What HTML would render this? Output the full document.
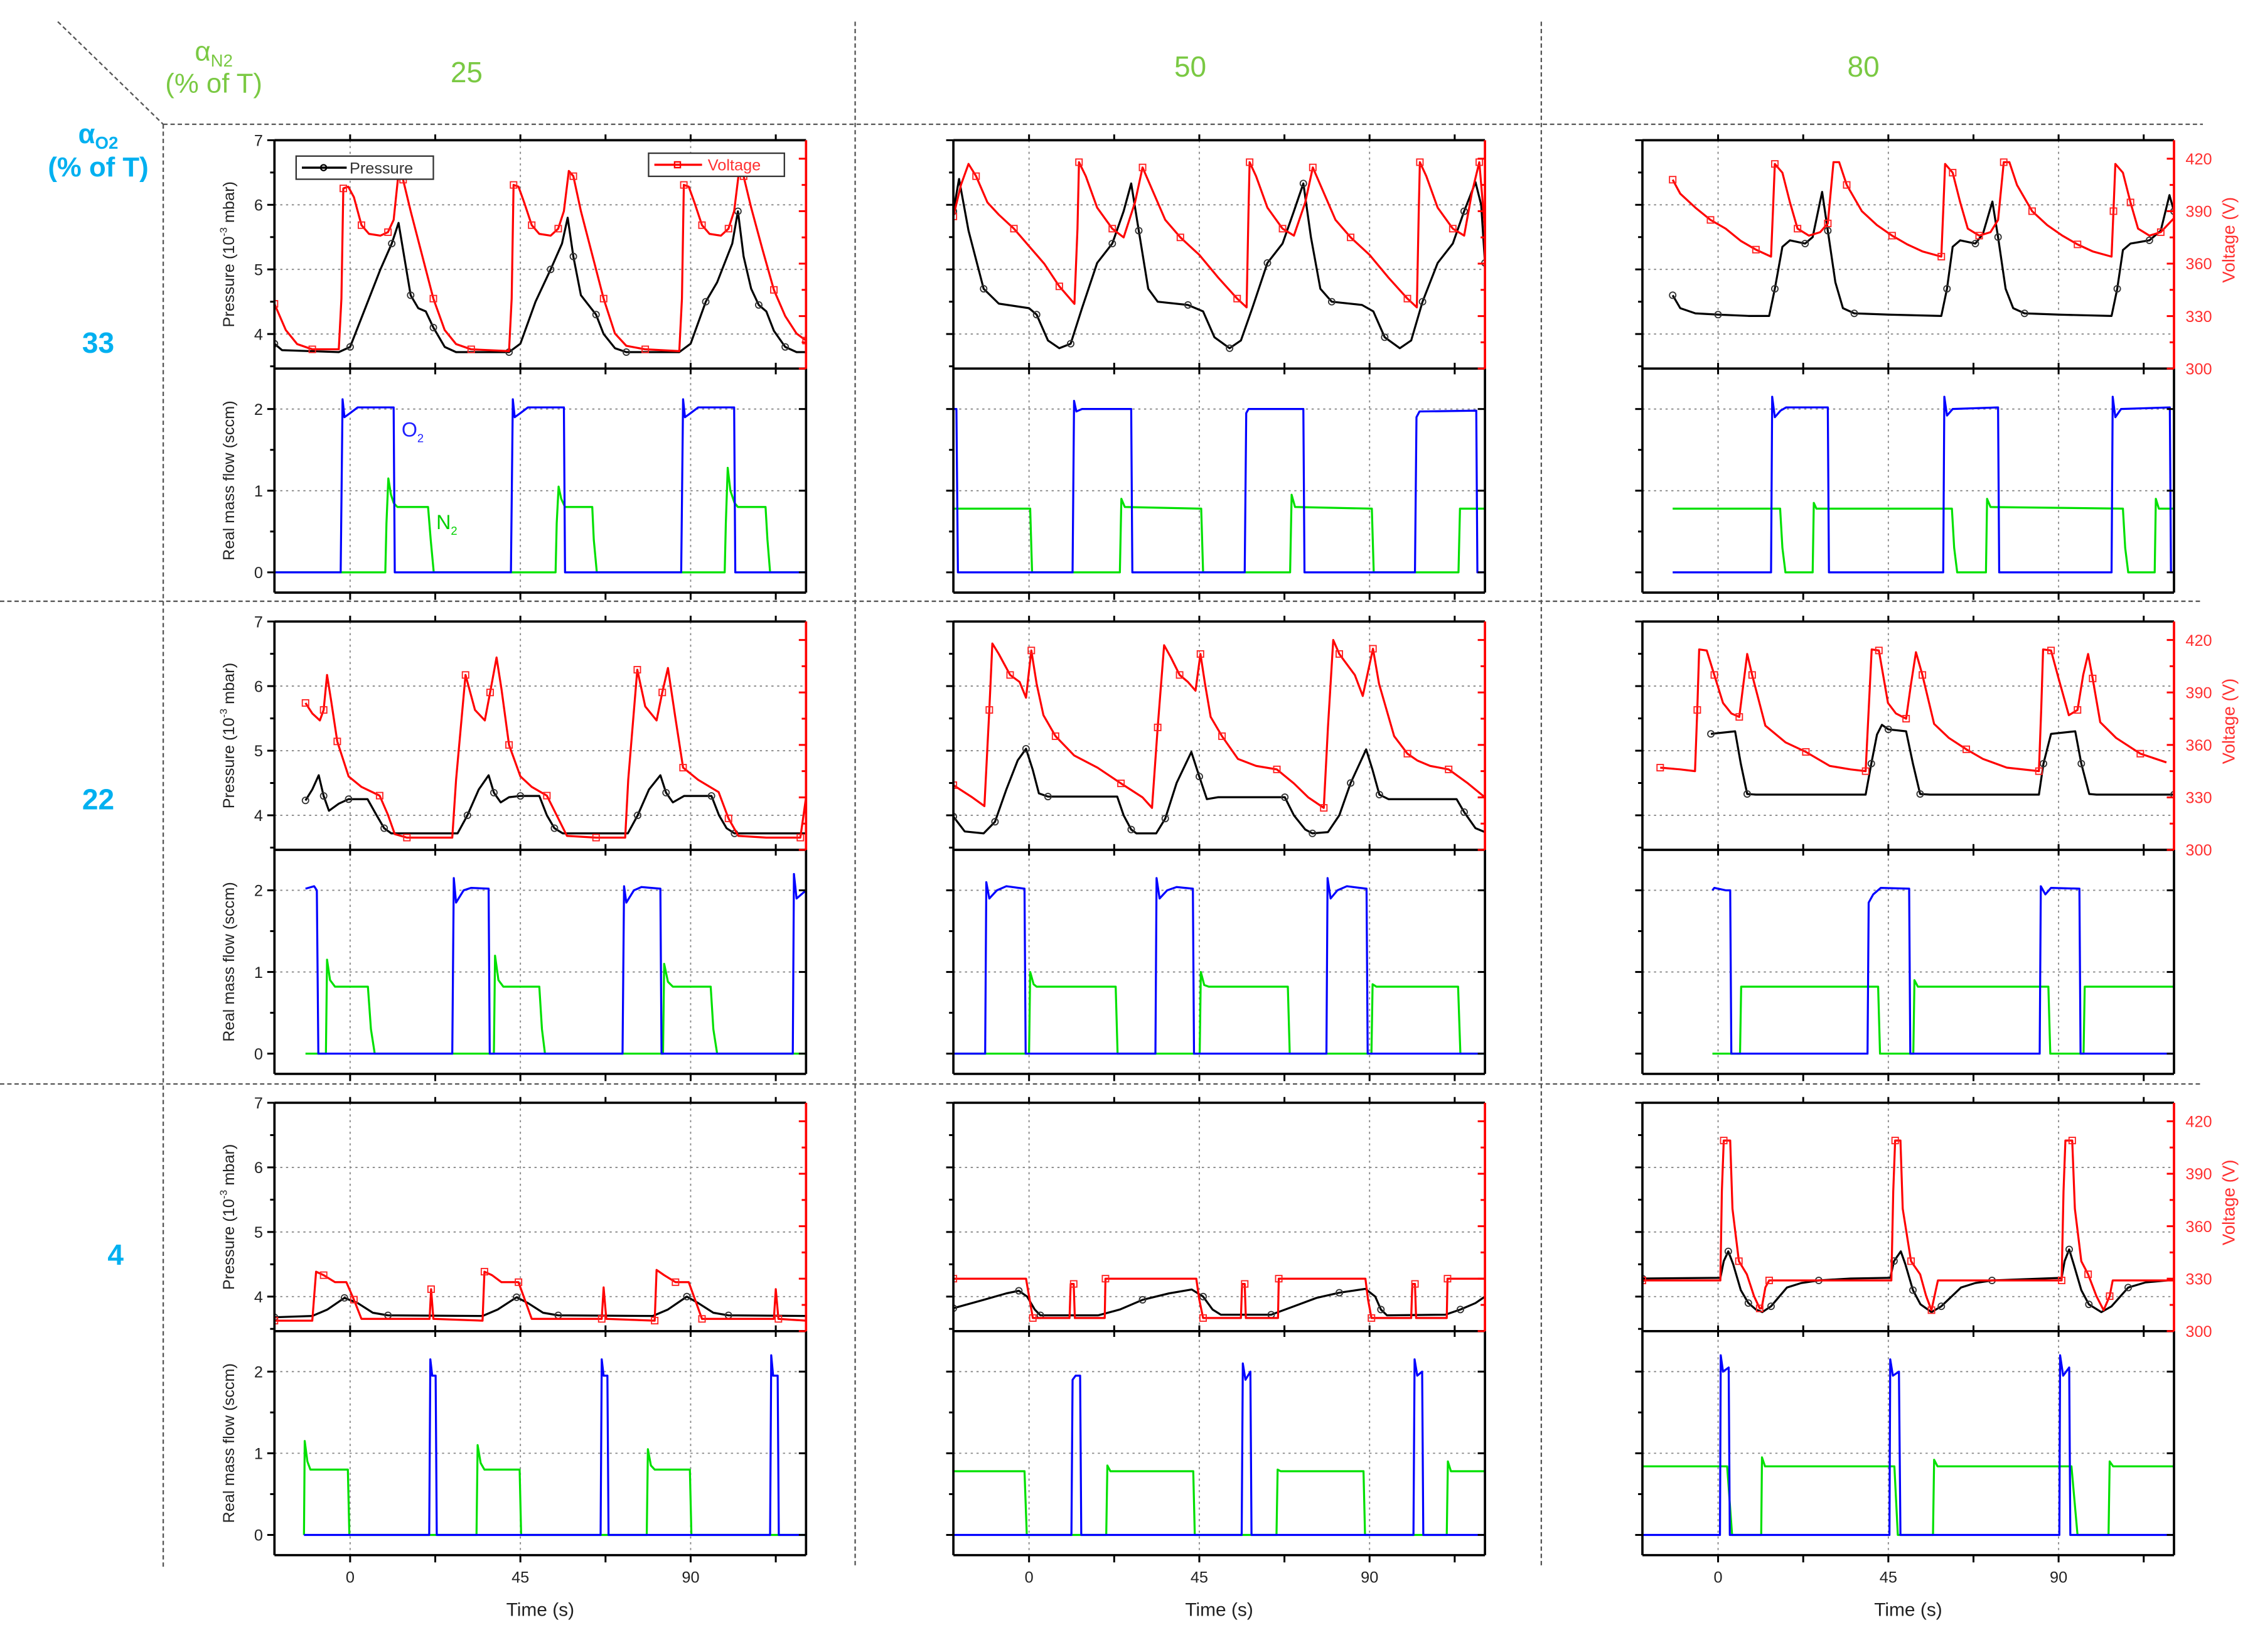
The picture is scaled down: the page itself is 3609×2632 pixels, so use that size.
<!DOCTYPE html>
<html><head><meta charset="utf-8"><style>
html,body{margin:0;padding:0;background:#fff}
svg{display:block}
text{font-family:"Liberation Sans",Arial,sans-serif}
</style></head><body>
<svg id="fig" xmlns="http://www.w3.org/2000/svg" width="3609" height="2632" viewBox="0 0 1568 1143" preserveAspectRatio="none">
<g stroke="#555" stroke-width="1" stroke-dasharray="3,2" fill="none">
<line x1="40" y1="15" x2="113" y2="86"/>
<line x1="113" y1="86" x2="1525" y2="86"/>
<line x1="113" y1="86" x2="113" y2="1085"/>
<line x1="592" y1="15" x2="592" y2="1085"/>
<line x1="1067" y1="15" x2="1067" y2="1085"/>
<line x1="0" y1="416" x2="1525" y2="416"/>
<line x1="0" y1="750" x2="1525" y2="750"/>
</g>
<g fill="#7ac943" font-size="19" text-anchor="middle">
<text x="148" y="42">α<tspan font-size="12" dy="4">N2</tspan></text>
<text x="148" y="64">(% of T)</text>
<text x="323" y="57" font-size="20">25</text>
<text x="824" y="53" font-size="20">50</text>
<text x="1290" y="53" font-size="20">80</text>
</g>
<g fill="#00b0f0" font-size="19" text-anchor="middle" font-weight="bold">
<text x="68" y="99">α<tspan font-size="12" dy="4">O2</tspan></text>
<text x="68" y="122">(% of T)</text>
<text x="68" y="244" font-size="20">33</text>
<text x="68" y="560" font-size="20">22</text>
<text x="80" y="875" font-size="20">4</text>
</g>
<g id="plots"></g>
</svg>
<script>
// ---- data: flat [time(s), value] pairs ----
const pres_33_25=[-20,3.85,-18,3.75,-3,3.72,0,3.8,4,4.4,8,5.0,11,5.4,12.8,5.72,14,5.3,16,4.6,18,4.4,20,4.35,22,4.1,25,3.8,28,3.72,42,3.72,45,3.85,49,4.5,53,5.0,56,5.4,57.5,5.8,59,5.2,61,4.6,63,4.45,65,4.3,67,4.0,70,3.78,73,3.72,87,3.72,90,3.85,94,4.5,97,4.8,101,5.4,102.5,5.9,104,5.2,106,4.7,108,4.45,110,4.35,112,4.05,115,3.8,118,3.72,120.5,3.72];
const volt_33_25=[-20,337,-17,322,-14,314,-10,311,-3,311,-2.3,340,-1.8,403,-0.5,404,1,398,3,382,5,377,8,376,10,378,11.5,385,12.8,412,14,408,16,390,19,365,22,340,25,322,28,314,32,311,42,310,42.7,340,43.2,405,44.5,404,46,395,48,382,50,377,53,376,55,380,56.5,390,57.8,413,59,410,61,390,64,365,67,340,70,320,73,313,78,311,87,310,87.7,340,88.2,405,89.5,404,91,395,93,382,95,377,98,376,100,380,101.5,390,102.8,413,104,410,106,392,109,368,112,345,115,330,118,320,120.5,316];
const o2_33_25=[-20,0,-2.5,0,-2,2.12,-1.5,1.9,0,1.95,2,2.02,11.5,2.02,11.8,0,42.5,0,43,2.12,43.5,1.9,45,1.95,47,2.02,56.5,2.02,56.8,0,87.5,0,88,2.12,88.5,1.9,90,1.95,92,2.02,101.5,2.02,101.8,0,120.5,0];
const n2_33_25=[-20,0,9.3,0,9.6,0.6,10.1,1.15,10.8,0.95,11.5,0.85,12.5,0.8,20.6,0.8,21.3,0.4,22.1,0,54.3,0,54.6,0.6,55.1,1.05,55.8,0.9,56.8,0.8,64,0.8,64.4,0.4,65.2,0,99,0,99.3,0.6,99.8,1.28,100.5,1.0,101.6,0.85,102.5,0.8,109.8,0.8,110.3,0.4,111,0,120.5,0];

const pres_33_50=[-20,5.9,-18.5,6.4,-16,5.6,-12,4.7,-8,4.47,0,4.4,2,4.3,5,3.9,8,3.78,11,3.85,14,4.4,18,5.1,22,5.4,25,5.9,27,6.33,29,5.6,31.5,4.7,34,4.5,42,4.45,46,4.35,49,3.95,53,3.78,56,3.9,59,4.4,63,5.1,67,5.4,70,5.9,72.5,6.33,74.5,5.5,77,4.7,80,4.5,88,4.45,91,4.35,94,3.95,98,3.78,101,3.9,104,4.5,108,5.1,112,5.4,115,5.9,118,6.35,119.5,6,120.5,5.1];
const volt_33_50=[-20,387,-18,405,-16,417,-14,410,-11,395,-8,388,-4,380,0,370,4,360,8,347,12,337,12.8,380,13.2,418,15,410,18,392,22,380,25,375,28,395,30,415,32,405,36,385,40,375,45,365,50,352,55,340,57.5,335,58,390,58.3,418,60,410,63,392,67,380,70,376,73,395,75,415,77,405,81,385,85,375,90,365,95,352,100,340,102.5,335,103,390,103.3,418,105,410,108,392,112,380,115,376,117,400,119,418,120.5,380];
const o2_33_50=[-20,2.0,-19.2,2.0,-18.8,0,11.5,0,11.9,2.1,12.5,1.97,14,2.0,27,2.0,27.3,0,57,0,57.4,1.95,58,2.0,72.5,2.0,72.8,0,102,0,102.4,1.9,103.2,1.97,118.2,1.98,118.5,0,120.5,0];
const n2_33_50=[-20,0.78,0.3,0.78,0.8,0,24,0,24.4,0.9,25.3,0.8,45.5,0.78,46,0,69,0,69.4,0.95,70.3,0.8,90.6,0.78,91.1,0,113.5,0,113.9,0.78,120.5,0.78];

const pres_33_80=[-12,4.6,-10,4.4,-6,4.32,0,4.3,8,4.28,13.5,4.28,15,4.7,17,5.35,19,5.45,23,5.4,25,5.5,27.5,6.2,29,5.6,31,4.8,33,4.4,36,4.32,45,4.3,59,4.28,60.5,4.7,62,5.35,64,5.45,68,5.4,70,5.55,72.5,6.05,74,5.5,76,4.7,78,4.4,81,4.32,90,4.3,104,4.28,105.5,4.7,107,5.3,109,5.4,114,5.45,117,5.6,119.3,6.15,120.5,5.9];
const volt_33_80=[-12,408,-10,400,-6,392,-2,385,2,380,6,373,10,368,14,364,14.5,390,15,417,17,412,19,395,21,380,24,376,27,378,29,383,30.5,418,32,418,34,405,38,390,42,382,46,376,50,371,54,367,59,364,59.5,390,60,417,62,412,64,395,66,380,69,376,72,378,74,385,75.5,418,77,418,79,405,83,390,87,382,91,376,95,371,99,367,104,364,104.5,390,105,417,107,412,109,395,111,380,114,376,117,378,120.5,386];
const o2_33_80=[-12,0,14,0,14.3,2.15,15,1.9,16.5,1.98,18,2.02,29,2.02,29.3,0,59.5,0,59.8,2.15,60.5,1.92,62,2.0,74,2.02,74.3,0,104,0,104.3,2.15,105,1.9,106.5,2.0,119.4,2.02,119.7,0,120.5,0];
const n2_33_80=[-12,0.78,16.4,0.78,17,0.3,17.8,0,25,0,25.3,0.85,26,0.78,61.8,0.78,62.4,0.3,63.2,0,70.8,0,71.1,0.9,72,0.8,107,0.78,107.6,0.3,108.4,0,115.4,0,115.7,0.9,116.5,0.78,120.5,0.78];

const pres_22_25=[-11.8,4.23,-10,4.4,-8.3,4.62,-7,4.3,-5.6,4.07,-3,4.18,-0.4,4.25,4.6,4.25,7,4.0,9,3.8,10.9,3.72,28.4,3.72,31,4.0,34,4.4,36.6,4.62,38,4.35,39.8,4.2,42,4.28,45,4.3,50,4.3,52,4.0,54,3.8,56.2,3.72,73.4,3.72,76,4.0,79,4.4,82,4.62,83.5,4.35,85.3,4.2,88.3,4.3,95.5,4.3,97.5,4.0,99.5,3.8,101.6,3.72,120.5,3.72];
const volt_22_25=[-11.8,384,-10,378,-8,374,-7,380,-6.1,400,-5,385,-3.4,362,-0.4,342,3,336,7.8,331,10,320,11.8,309,15,307,27,307,28,340,30.5,400,33,380,35.6,374,37,390,38.7,410,40,392,42,360,45,342,48,336,52,331,55,318,57.3,308,65,307,72.7,307,73.5,340,75.9,403,78,382,81,374,82.5,390,84,404,86,375,88,347,92,340,97.4,333,100,318,102.6,308,110,307,119,307,120.5,330];
const o2_22_25=[-11.8,2.02,-9.5,2.05,-8.8,2.0,-8.4,0,27,0,27.4,2.15,28,1.85,30,2.0,32,2.03,36.6,2.02,36.9,0,72,0,72.4,2.05,73,1.85,75,2.0,77,2.04,82,2.02,82.3,0,117,0,117.3,2.2,118,1.9,120.5,2.0];
const n2_22_25=[-11.8,0,-6.4,0,-6.1,1.15,-5.3,0.9,-4,0.82,4.7,0.82,5.5,0.3,6.5,0,38,0,38.3,1.2,39.2,0.9,40.5,0.82,50,0.82,50.7,0.3,51.5,0,82.7,0,83,1.1,84,0.88,85.3,0.82,95.3,0.82,96,0.3,97,0,120.5,0];

const pres_22_50=[-20,3.98,-17,3.75,-12,3.72,-9,3.9,-6,4.4,-3,4.85,-0.8,5.03,1,4.7,2.6,4.34,5,4.29,23.3,4.29,25,4.0,27,3.78,28.4,3.72,33.6,3.72,36,3.95,39,4.5,42.9,4.98,45,4.6,47,4.25,50,4.28,67.6,4.28,70,4.0,73,3.78,74.9,3.72,79,3.74,82,4.0,85,4.5,89.1,5.02,90.8,4.7,92.6,4.32,95,4.25,113,4.25,115,4.05,118,3.8,120.5,3.74];
const volt_22_50=[-20,337,-15,330,-11.8,325,-10.5,380,-9.7,418,-8,412,-5,400,-2.5,396,-0.8,387,0.6,414,2,395,3.8,377,7,365,11.9,354,18.1,347,24.3,338,30,330,32.5,324,34,370,35.7,417,37.5,410,39.8,400,42,396,44,391,45.3,412,46.5,395,48,376,51,365,55.2,352,60,348,65.5,346,70,338,73.8,330,77.9,324,79,370,80.4,420,82,412,86.1,400,88.2,388,90.9,415,92.5,395,96.5,365,100,355,102.7,351,106,348,110.9,346,116,338,120.5,330];
const o2_22_50=[-20,0,-11.6,0,-11.3,2.1,-10.5,1.9,-8.5,2.0,-6,2.05,-1.2,2.02,-0.9,0,33.4,0,33.7,2.15,34.5,1.9,36.5,2.0,39,2.04,43.3,2.02,43.6,0,78.6,0,78.9,2.15,79.7,1.9,81.5,2.0,84,2.05,89.2,2.02,89.5,0,120.5,0];
const n2_22_50=[-20,0,0,0,0.3,1.0,1.2,0.85,2,0.82,22.9,0.82,23.4,0,45.1,0,45.4,1.0,46.3,0.84,47.5,0.82,68.4,0.82,68.9,0,90.5,0,90.8,0.85,91.8,0.82,113.4,0.82,114,0,120.5,0];

const pres_22_80=[-1.9,5.26,4.5,5.3,6,4.8,7.7,4.33,10,4.32,39,4.32,40.5,4.8,42,5.25,43.3,5.4,45,5.33,49.7,5.3,51.5,4.8,53.4,4.33,56,4.32,84.8,4.32,86,4.8,88,5.26,94.4,5.3,96,4.8,98.1,4.33,100,4.32,120.5,4.32];
const volt_22_80=[-15.3,347,-10,346,-6.1,345,-5.5,380,-5,414.6,-3,414,-1,400,1.3,384,3.5,378,5.6,376,6.7,395,7.7,412,9,400,12.5,371,17.8,361.5,23.2,356,29.5,348,35,346,39,345,39.8,380,40.6,414.6,42.5,414,44.9,384,47,378,49.7,375,51,395,52.3,413,54,400,57.1,372,61,364,65.6,357.5,70,352,76.3,347,84.8,345,85.4,380,85.9,414.6,88,414,90,398,92.7,377,95,380,96.5,400,97.8,412,99,398,101,373,105.2,364,111.6,355,118.5,350];
const o2_22_80=[-1.5,2.0,-1,2.03,2,2.0,3.2,2.0,3.5,0,39.5,0,39.8,1.85,41,1.95,43,2.03,50.5,2.02,50.8,0,85,0,85.3,2.05,86.5,1.95,88,2.03,95.5,2.02,95.8,0,120.5,0];
const n2_22_80=[-1.5,0,5.8,0,6.1,0.82,42.3,0.82,42.8,0,51.6,0,51.9,0.9,52.8,0.82,87.3,0.82,87.8,0,96.6,0,96.9,0.82,120.5,0.82];

const pres_4_25=[-20,3.68,-10,3.7,-6,3.8,-1.5,3.98,2,3.9,6,3.75,10,3.71,35,3.7,39,3.8,44,3.99,47,3.9,51,3.75,55,3.71,80,3.7,84,3.8,89,4.0,92,3.9,96,3.75,100,3.71,120.5,3.7];
const volt_4_25=[-20,306,-10,306,-9,334,-7,332,-4,328,-1,328,1,318,3,307,21,307,21.4,324,22,307,35,306,35.5,334,37.5,332,40,328,44.5,328,46.5,316,48,307,66.5,307,67,325,67.7,307,80.5,306,81,335,83,332,86,328,89.5,328,91.5,316,93,307,112,307,112.5,324,113.2,307,120.5,306];
const o2_4_25=[-12.2,0,20.9,0,21.2,2.15,21.7,1.95,22.6,1.95,22.9,0,66.2,0,66.5,2.15,67,1.95,68,1.95,68.3,0,111,0,111.3,2.2,111.8,1.95,113,1.95,113.3,0,120.5,0];
const n2_4_25=[-12.2,0,-12,1.15,-11.3,0.9,-10.5,0.8,-0.6,0.8,-0.2,0,33.4,0,33.7,1.1,34.5,0.88,35.5,0.8,44.8,0.8,45.2,0,78.4,0,78.7,1.05,79.5,0.85,80.5,0.8,89.8,0.8,90.2,0,120.5,0];

const pres_4_50=[-20,3.82,-12,3.95,-6,4.05,-2.7,4.09,-0.5,4.0,1.5,3.8,3,3.71,18.3,3.71,24,3.8,30,3.95,37,4.05,43,4.11,46,4.0,48.5,3.8,50.7,3.72,64,3.72,70,3.85,76,3.98,82,4.06,88.9,4.12,91.5,4.0,93,3.8,94.6,3.71,110,3.72,114,3.8,118,3.9,120.5,4.0];
const volt_4_50=[-20,330,-0.8,330,0,320,1,307.5,10.7,307.5,11,327,11.8,327,12.1,307.5,20,307.5,20.2,330,44.2,330,45,318,46,307.5,56,307.5,56.3,327,57,327,57.3,307.5,65.8,307.5,66,330,88.9,330,89.6,318,90.5,307.5,101,307.5,101.3,327,102,327,102.3,307.5,110.4,307.5,110.6,330,120.5,330];
const o2_4_50=[-20,0,11.2,0,11.5,1.9,12.3,1.95,13.5,1.95,13.8,0,56.2,0,56.5,2.1,57.2,1.9,58.5,2.0,58.8,0,101.6,0,101.9,2.15,102.6,1.95,103.9,2.0,104.2,0,120.5,0];
const n2_4_50=[-20,0.78,-1.2,0.78,-0.6,0,20.4,0,20.7,0.85,21.5,0.78,43.4,0.78,43.8,0,65.4,0,65.7,0.8,66.5,0.78,88.4,0.78,88.8,0,110.4,0,110.7,0.9,111.5,0.78,120.5,0.78];

const pres_4_80=[-20,4.28,0.6,4.29,1.5,4.55,2.7,4.7,4,4.5,6,4.1,8,3.9,10,3.8,11.7,3.76,14,3.85,18.2,4.14,22,4.21,26.6,4.25,35,4.28,45.5,4.29,46.5,4.55,48.3,4.7,49.5,4.5,51.5,4.1,53.5,3.88,56.4,3.76,59,3.85,64.2,4.14,68,4.21,72.4,4.25,90.8,4.29,91.6,4.55,92.8,4.73,94,4.5,96,4.1,98,3.88,101.3,3.76,104,3.85,108.4,4.14,113,4.22,120.5,4.26];
const volt_4_80=[-20,329,0.6,329,1,380,1.5,409,3.2,409,3.8,370,5.5,340,7.6,332.5,9.5,320,11,313,11.5,313,12.5,325,13.5,329,45.8,329,46.3,380,46.8,409,48.2,409,48.8,370,51,340,53.4,332.5,55,320,56.4,312,57.2,320,58.1,329,90.8,329,91.3,380,91.8,409,93.6,409,94.3,370,96,340,97.8,332.5,100,320,101.9,312,103.5,320,104.3,329,120.5,329];
const o2_4_80=[-20,0,0.5,0,0.7,2.2,1.3,2.0,2.8,2.05,3.1,0,45.3,0,45.5,2.15,46.2,1.95,47.8,2.0,48.2,0,90.2,0,90.4,2.2,91.2,1.95,92.8,2.05,93.1,0,120.5,0];
const n2_4_80=[-20,0.84,2.4,0.84,3.7,0,11.4,0,11.6,0.95,12.4,0.84,46.6,0.84,47.5,0,56.8,0,57.1,0.92,58,0.84,93.4,0.84,95,0,103.2,0,103.5,0.9,104.4,0.84,120.5,0.84];

const o2Levels=["33","22","4"];
const n2Levels=["25","50","80"];
const timeTicks=[0,45,90];
const presTicks=[4,5,6,7];
const voltTicks=[300,330,360,390,420];
const flowTicks=[0,1,2];
const DATA={
 "33_25":[pres_33_25,volt_33_25,o2_33_25,n2_33_25],"33_50":[pres_33_50,volt_33_50,o2_33_50,n2_33_50],"33_80":[pres_33_80,volt_33_80,o2_33_80,n2_33_80],
 "22_25":[pres_22_25,volt_22_25,o2_22_25,n2_22_25],"22_50":[pres_22_50,volt_22_50,o2_22_50,n2_22_50],"22_80":[pres_22_80,volt_22_80,o2_22_80,n2_22_80],
 "4_25":[pres_4_25,volt_4_25,o2_4_25,n2_4_25],"4_50":[pres_4_50,volt_4_50,o2_4_50,n2_4_50],"4_80":[pres_4_80,volt_4_80,o2_4_80,n2_4_80]};

// ---- layout ----
const NS="http://www.w3.org/2000/svg";
const COLL=[190,660,1137], W=368, TMIN=-20, TMAX=120.5;
const ROWT=[97,430,763], PH=158, FH=155;
const root=document.getElementById('plots');
function mk(tag,attrs,parent){const e=document.createElementNS(NS,tag);for(const k in attrs)e.setAttribute(k,attrs[k]);(parent||root).appendChild(e);return e;}
function txt(x,y,s,attrs,parent){const e=mk('text',Object.assign({x:x,y:y},attrs),parent);e.textContent=s;return e;}

for(let r=0;r<3;r++){
 for(let c=0;c<3;c++){
  const L=COLL[c], T=ROWT[r], M=T+PH, B=M+FH;
  const xs=t=>L+(t-TMIN)/(TMAX-TMIN)*W;
  const yp=p=>T+(7-p)*44.7;
  const yv=v=>M-(v-300)*1.21;
  const yf=f=>M+141-f*56.5;
  const key=o2Levels[r]+"_"+n2Levels[c];
  const d=DATA[key];
  const g=mk('g',{});
  
  
  const cid='clp'+r+c, cid2='clf'+r+c;
  const defs=mk('defs',{},g);
  const cp=mk('clipPath',{id:cid},defs); mk('rect',{x:L,y:T,width:W,height:PH},cp);
  const cp2=mk('clipPath',{id:cid2},defs); mk('rect',{x:L,y:M,width:W,height:FH},cp2);
  // grid
  const grid=mk('g',{stroke:'#888','stroke-width':0.8,'stroke-dasharray':'1.5,2.5',fill:'none'},g);
  
  
  [4,5,6].forEach(p=>mk('line',{x1:L,x2:L+W,y1:yp(p),y2:yp(p)},grid));
  [1,2].forEach(f=>mk('line',{x1:L,x2:L+W,y1:yf(f),y2:yf(f)},grid));
  timeTicks.forEach(t=>mk('line',{x1:xs(t),x2:xs(t),y1:T,y2:B},grid));
  // series
  function path(arr,xf,yf2,color,clip,name){
   let s='';for(let i=0;i<arr.length;i+=2)s+=(i?'L':'M')+xf(arr[i]).toFixed(2)+' '+yf2(arr[i+1]).toFixed(2);
   const p=mk('path',{d:s,stroke:color,'stroke-width':1.4,fill:'none','clip-path':'url(#'+clip+')','stroke-linejoin':'round'},g);
   
   
   return p;
  }
  function markers(arr,xf,yf2,color,clip,shape,name){
   const mg=mk('g',{stroke:color,'stroke-width':0.8,fill:'none','clip-path':'url(#'+clip+')'},g);
   
   
   for(let i=0;i<arr.length;i+=6){const x=xf(arr[i]),y=yf2(arr[i+1]);
    if(shape==='c')mk('circle',{cx:x,cy:y,r:2.2},mg);else mk('rect',{x:x-2.2,y:y-2.2,width:4.4,height:4.4},mg);}
  }
  path(d[0],xs,yp,'#000',cid,'pressure-line');
  markers(d[0],xs,yp,'#333',cid,'c','pressure-markers');
  path(d[1],xs,yv,'#ff0000',cid,'voltage-line');
  markers(d[1],xs,yv,'#ff2020',cid,'s','voltage-markers');
  path(d[3],xs,yf,'#00e000',cid2,'n2-flow-line');
  path(d[2],xs,yf,'#0000ff',cid2,'o2-flow-line');
  // frames
  const fr=mk('g',{fill:'none',stroke:'#000','stroke-width':1.6},g);
  
  
  mk('line',{x1:L,x2:L+W,y1:T,y2:T},fr);
  mk('line',{x1:L,x2:L+W,y1:M,y2:M},fr);
  mk('line',{x1:L,x2:L+W,y1:B,y2:B},fr);
  mk('line',{x1:L,x2:L,y1:T,y2:B},fr);
  mk('line',{x1:L+W,x2:L+W,y1:M,y2:B},fr);
  mk('line',{x1:L+W,x2:L+W,y1:T,y2:M,stroke:'#ff0000'},fr);
  // ticks
  const tk=mk('g',{stroke:'#000','stroke-width':1.3},g);
  
  
  for(let t=0;t<=112.5;t+=22.5){const x=xs(t);
   mk('line',{x1:x,x2:x,y1:T-4,y2:T},tk);
   mk('line',{x1:x,x2:x,y1:M-4,y2:M+4},tk);
   mk('line',{x1:x,x2:x,y1:B,y2:B+5},tk);}
  for(let p=3.5;p<=7;p+=0.5){const maj=p%1===0;mk('line',{x1:L-(maj?5:3),x2:L,y1:yp(p),y2:yp(p)},tk);}
  for(let f=0;f<=2;f+=0.5){const maj=f%1===0;mk('line',{x1:L-(maj?5:3),x2:L,y1:yf(f),y2:yf(f)},tk);
   if(maj)mk('line',{x1:L+W-5,x2:L+W,y1:yf(f),y2:yf(f)},tk);}
  for(let v=300;v<=420;v+=15){const maj=v%30===0;mk('line',{x1:L+W-(maj?5:3),x2:L+W,y1:yv(v),y2:yv(v),stroke:'#ff0000'},tk);}
  // labels
  if(c===0){
   const lg=mk('g',{'font-size':11,fill:'#222','text-anchor':'end'},g);
   
   
   presTicks.forEach(p=>txt(L-8,yp(p)+4,String(p),{},lg));
   flowTicks.forEach(f=>txt(L-8,yf(f)+4,String(f),{},lg));
   const a1=txt(0,0,'',{transform:'translate('+(L-28)+','+(T+PH/2)+') rotate(-90)','text-anchor':'middle','font-size':11,fill:'#222'},g);
   a1.innerHTML='Pressure (10<tspan font-size="7" dy="-5">-3</tspan><tspan dy="5"> mbar)</tspan>';
   
   
   const a2=txt(0,0,'Real mass flow (sccm)',{transform:'translate('+(L-28)+','+(M+FH/2)+') rotate(-90)','text-anchor':'middle','font-size':11,fill:'#222'},g);
   
   
  }
  if(c===2){
   const rg=mk('g',{'font-size':11,fill:'#ff3030'},g);
   
   
   voltTicks.forEach(v=>txt(L+W+8,yv(v)+4,String(v),{},rg));
   const a3=txt(0,0,'Voltage (V)',{transform:'translate('+(L+W+42)+','+(T+PH/2-10)+') rotate(-90)','text-anchor':'middle','font-size':12,fill:'#ff3030'},g);
   
   
  }
  if(r===2){
   const bg=mk('g',{'font-size':11,fill:'#222','text-anchor':'middle'},g);
   
   
   timeTicks.forEach(t=>txt(xs(t),B+19,String(t),{},bg));
   const a4=txt(L+W/2,B+42,'Time (s)',{'text-anchor':'middle','font-size':13,fill:'#222'},g);
   
   
  }
  if(r===0&&c===0){
   const l1=mk('g',{},g);
   
   
   mk('rect',{x:205,y:108,width:95,height:16,fill:'#fff',stroke:'#333','stroke-width':1},l1);
   mk('line',{x1:209,x2:240,y1:116,y2:116,stroke:'#000','stroke-width':1.5},l1);
   mk('circle',{cx:224,cy:116,r:2,fill:'none',stroke:'#000'},l1);
   txt(242,120,'Pressure',{'font-size':11,fill:'#333'},l1);
   const l2=mk('g',{},g);
   
   
   mk('rect',{x:449,y:106,width:94,height:16,fill:'#fff',stroke:'#333','stroke-width':1},l2);
   mk('line',{x1:453,x2:486,y1:114,y2:114,stroke:'#ff0000','stroke-width':1.5},l2);
   mk('rect',{x:467,y:112,width:4,height:4,fill:'none',stroke:'#ff0000'},l2);
   txt(490,118,'Voltage',{'font-size':11,fill:'#ff3030'},l2);
   const o=txt(278,302,'',{'font-size':14,fill:'#2020ff'},g);
   o.innerHTML='O<tspan font-size="8" dy="4">2</tspan>';
   
   
   const n=txt(302,366,'',{'font-size':14,fill:'#00d000'},g);
   n.innerHTML='N<tspan font-size="8" dy="4">2</tspan>';
   
   
  }
 }
}
</script>
</body></html>
